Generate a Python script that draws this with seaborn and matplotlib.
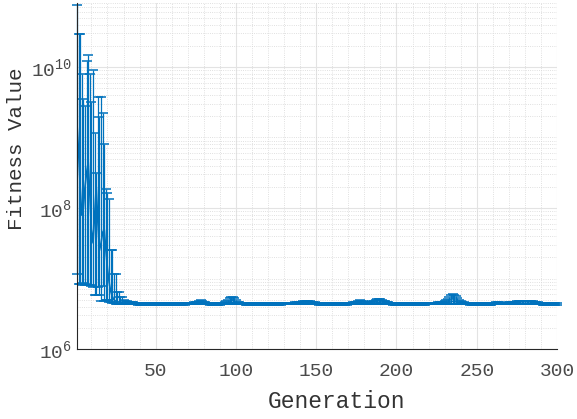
import numpy as np
import matplotlib
matplotlib.use("Agg")
import matplotlib.pyplot as plt
import matplotlib.ticker as mticker
import seaborn as sns

# ---------------------------------------------------------------
# Data (fitness values in units of 1e6)
# ---------------------------------------------------------------
generations = list(range(1, 301))

# first 30 generations: mean, lower and upper bar ends
head_mean = [1585, 631, 200, 79, 100, 200, 316, 447, 158, 50,
             32, 79, 200, 63, 25, 32, 45, 50, 25, 14,
             8.9, 6.6, 5.6, 5.0, 4.8, 4.7, 4.65, 4.6, 4.55, 4.5]
head_hi = [76000, 29500, 29500, 7900, 3500, 2800, 12000, 15000, 7900, 3200,
           9100, 1150, 316, 3700, 1950, 3700, 2240, 810, 186, 162,
           135, 25, 25, 11.5, 11.5, 6.5, 6.5, 5.5, 5.5, 5.0]
head_lo = [11.5, 8.3, 8.3, 8.0, 8.5, 8.2, 8.3, 8.0, 8.1, 7.9,
           7.6, 5.9, 5.8, 7.7, 5.9, 4.8, 7.8, 4.8, 5.0, 4.9,
           4.7, 4.6, 4.5, 4.5, 4.4, 4.4, 4.35, 4.35, 4.3, 4.3]

# generations 31..300: mean and error above / below
tail_mean = [4.48, 4.46, 4.45, 4.43, 4.42, 4.41, 4.40, 4.39, 4.38, 4.38,
             4.37, 4.37, 4.36, 4.36, 4.36, 4.35, 4.35, 4.35, 4.35, 4.35,
             4.35, 4.36, 4.36, 4.37, 4.37, 4.37, 4.38, 4.38, 4.38, 4.38,
             4.38, 4.38, 4.37, 4.37, 4.37, 4.37, 4.38, 4.38, 4.39, 4.39,
             4.40, 4.40, 4.41, 4.42, 4.43, 4.45, 4.48, 4.50, 4.47, 4.44,
             4.41, 4.40, 4.39, 4.38, 4.38, 4.37, 4.37, 4.37, 4.38, 4.38,
             4.39, 4.40, 4.42, 4.45, 4.50, 4.56, 4.62, 4.60, 4.56, 4.50,
             4.46, 4.43, 4.41, 4.40, 4.39, 4.38, 4.38, 4.38, 4.38, 4.37,
             4.37, 4.37, 4.37, 4.36, 4.36, 4.36, 4.36, 4.37, 4.37, 4.37,
             4.37, 4.37, 4.38, 4.38, 4.38, 4.38, 4.38, 4.38, 4.39, 4.39,
             4.39, 4.40, 4.40, 4.40, 4.41, 4.41, 4.42, 4.43, 4.44, 4.45,
             4.46, 4.47, 4.49, 4.50, 4.49, 4.47, 4.45, 4.43, 4.41, 4.40,
             4.39, 4.38, 4.38, 4.38, 4.37, 4.37, 4.37, 4.37, 4.37, 4.37,
             4.37, 4.37, 4.37, 4.37, 4.37, 4.38, 4.38, 4.38, 4.38, 4.39,
             4.39, 4.40, 4.41, 4.42, 4.44, 4.46, 4.48, 4.47, 4.45, 4.43,
             4.42, 4.41, 4.42, 4.43, 4.44, 4.46, 4.48, 4.51, 4.53, 4.52,
             4.50, 4.48, 4.45, 4.43, 4.41, 4.40, 4.39, 4.38, 4.38, 4.37,
             4.37, 4.37, 4.36, 4.36, 4.36, 4.36, 4.36, 4.36, 4.36, 4.37,
             4.37, 4.37, 4.37, 4.38, 4.38, 4.38, 4.38, 4.38, 4.39, 4.39,
             4.39, 4.39, 4.40, 4.40, 4.41, 4.42, 4.43, 4.44, 4.45, 4.47,
             4.50, 4.54, 4.60, 4.68, 4.75, 4.72, 4.65, 4.58, 4.52, 4.48,
             4.45, 4.43, 4.41, 4.40, 4.39, 4.38, 4.37, 4.37, 4.36, 4.36,
             4.36, 4.36, 4.36, 4.36, 4.37, 4.37, 4.37, 4.38, 4.38, 4.39,
             4.40, 4.41, 4.42, 4.41, 4.40, 4.39, 4.39, 4.39, 4.40, 4.41,
             4.42, 4.43, 4.44, 4.45, 4.46, 4.47, 4.48, 4.48, 4.47, 4.47,
             4.48, 4.49, 4.49, 4.48, 4.46, 4.44, 4.42, 4.41, 4.40, 4.39,
             4.38, 4.38, 4.37, 4.37, 4.36, 4.36, 4.35, 4.35, 4.34, 4.34]
tail_up = [0.30, 0.28, 0.25, 0.22, 0.20, 0.18, 0.16, 0.15, 0.14, 0.13,
           0.12, 0.12, 0.11, 0.11, 0.10, 0.10, 0.10, 0.10, 0.10, 0.10,
           0.10, 0.10, 0.11, 0.11, 0.11, 0.12, 0.12, 0.12, 0.12, 0.12,
           0.12, 0.12, 0.11, 0.11, 0.11, 0.11, 0.12, 0.12, 0.13, 0.13,
           0.14, 0.14, 0.15, 0.17, 0.20, 0.25, 0.35, 0.45, 0.35, 0.25,
           0.18, 0.15, 0.13, 0.12, 0.12, 0.11, 0.11, 0.11, 0.12, 0.12,
           0.13, 0.15, 0.20, 0.30, 0.50, 0.75, 0.90, 0.85, 0.65, 0.40,
           0.25, 0.18, 0.15, 0.13, 0.12, 0.12, 0.12, 0.12, 0.11, 0.11,
           0.11, 0.11, 0.11, 0.10, 0.10, 0.10, 0.10, 0.11, 0.11, 0.11,
           0.11, 0.11, 0.12, 0.12, 0.12, 0.12, 0.12, 0.12, 0.13, 0.13,
           0.13, 0.14, 0.14, 0.14, 0.15, 0.15, 0.16, 0.18, 0.20, 0.23,
           0.26, 0.30, 0.33, 0.35, 0.32, 0.28, 0.23, 0.19, 0.16, 0.14,
           0.13, 0.12, 0.12, 0.12, 0.11, 0.11, 0.11, 0.11, 0.11, 0.11,
           0.11, 0.11, 0.11, 0.11, 0.11, 0.12, 0.12, 0.12, 0.12, 0.13,
           0.13, 0.15, 0.18, 0.22, 0.28, 0.35, 0.40, 0.36, 0.28, 0.22,
           0.18, 0.17, 0.20, 0.25, 0.32, 0.40, 0.50, 0.60, 0.62, 0.55,
           0.45, 0.36, 0.28, 0.22, 0.17, 0.14, 0.13, 0.12, 0.12, 0.11,
           0.11, 0.11, 0.10, 0.10, 0.10, 0.10, 0.10, 0.10, 0.10, 0.11,
           0.11, 0.11, 0.11, 0.12, 0.12, 0.12, 0.12, 0.12, 0.13, 0.13,
           0.13, 0.13, 0.14, 0.14, 0.15, 0.16, 0.18, 0.20, 0.25, 0.32,
           0.45, 0.65, 0.90, 1.15, 1.30, 1.20, 0.95, 0.70, 0.48, 0.33,
           0.24, 0.18, 0.15, 0.13, 0.12, 0.12, 0.11, 0.11, 0.10, 0.10,
           0.10, 0.10, 0.10, 0.10, 0.11, 0.11, 0.11, 0.12, 0.12, 0.13,
           0.15, 0.18, 0.20, 0.18, 0.15, 0.13, 0.13, 0.13, 0.15, 0.17,
           0.19, 0.21, 0.23, 0.26, 0.28, 0.30, 0.33, 0.34, 0.32, 0.32,
           0.34, 0.36, 0.35, 0.32, 0.27, 0.22, 0.18, 0.16, 0.14, 0.13,
           0.12, 0.12, 0.11, 0.11, 0.10, 0.10, 0.10, 0.10, 0.10, 0.10]
tail_down = [0.14, 0.13, 0.12, 0.12, 0.11, 0.11, 0.10, 0.10, 0.10, 0.10,
             0.09, 0.09, 0.09, 0.09, 0.09, 0.09, 0.09, 0.09, 0.09, 0.09,
             0.09, 0.09, 0.09, 0.09, 0.09, 0.10, 0.10, 0.10, 0.10, 0.10,
             0.10, 0.10, 0.09, 0.09, 0.09, 0.09, 0.10, 0.10, 0.10, 0.10,
             0.10, 0.10, 0.11, 0.11, 0.12, 0.13, 0.15, 0.16, 0.14, 0.12,
             0.11, 0.10, 0.10, 0.10, 0.10, 0.09, 0.09, 0.09, 0.10, 0.10,
             0.10, 0.11, 0.12, 0.14, 0.17, 0.20, 0.22, 0.21, 0.18, 0.15,
             0.13, 0.11, 0.10, 0.10, 0.10, 0.10, 0.10, 0.10, 0.09, 0.09,
             0.09, 0.09, 0.09, 0.09, 0.09, 0.09, 0.09, 0.09, 0.09, 0.09,
             0.09, 0.09, 0.10, 0.10, 0.10, 0.10, 0.10, 0.10, 0.10, 0.10,
             0.10, 0.10, 0.10, 0.10, 0.11, 0.11, 0.11, 0.12, 0.12, 0.13,
             0.14, 0.15, 0.16, 0.16, 0.15, 0.14, 0.13, 0.12, 0.11, 0.10,
             0.10, 0.10, 0.10, 0.10, 0.09, 0.09, 0.09, 0.09, 0.09, 0.09,
             0.09, 0.09, 0.09, 0.09, 0.09, 0.10, 0.10, 0.10, 0.10, 0.10,
             0.10, 0.11, 0.12, 0.13, 0.14, 0.16, 0.17, 0.16, 0.14, 0.13,
             0.12, 0.12, 0.13, 0.14, 0.15, 0.17, 0.19, 0.21, 0.22, 0.20,
             0.18, 0.16, 0.14, 0.13, 0.12, 0.11, 0.10, 0.10, 0.10, 0.09,
             0.09, 0.09, 0.09, 0.09, 0.09, 0.09, 0.09, 0.09, 0.09, 0.09,
             0.09, 0.09, 0.09, 0.10, 0.10, 0.10, 0.10, 0.10, 0.10, 0.10,
             0.10, 0.10, 0.11, 0.11, 0.11, 0.12, 0.13, 0.14, 0.15, 0.17,
             0.20, 0.24, 0.28, 0.32, 0.34, 0.32, 0.28, 0.24, 0.20, 0.16,
             0.14, 0.12, 0.11, 0.10, 0.10, 0.10, 0.09, 0.09, 0.09, 0.09,
             0.09, 0.09, 0.09, 0.09, 0.09, 0.09, 0.09, 0.10, 0.10, 0.10,
             0.11, 0.12, 0.13, 0.12, 0.11, 0.10, 0.10, 0.10, 0.11, 0.12,
             0.13, 0.13, 0.14, 0.15, 0.15, 0.16, 0.17, 0.17, 0.16, 0.16,
             0.17, 0.17, 0.17, 0.16, 0.15, 0.14, 0.12, 0.11, 0.10, 0.10,
             0.10, 0.10, 0.09, 0.09, 0.09, 0.09, 0.09, 0.09, 0.09, 0.09]

x_ticks = [50, 100, 150, 200, 250, 300]
y_ticks = [1e6, 1e8, 1e10]
y_tick_labels = ["10$^{6}$", "10$^{8}$", "10$^{10}$"]

# ---------------------------------------------------------------
# Build arrays
# ---------------------------------------------------------------
scale = 1e6
mean = np.array(head_mean + tail_mean) * scale
lower = np.concatenate([np.array(head_mean) - np.array(head_lo), tail_down]) * scale
upper = np.concatenate([np.array(head_hi) - np.array(head_mean), tail_up]) * scale

# ---------------------------------------------------------------
# Style (MATLAB-like)
# ---------------------------------------------------------------
sns.set_theme(style="white")
plt.rcParams["font.family"] = ["Liberation Mono", "DejaVu Sans Mono"]
plt.rcParams["mathtext.fontset"] = "custom"
plt.rcParams["mathtext.rm"] = "Liberation Mono"
plt.rcParams["mathtext.it"] = "Liberation Mono"
plt.rcParams["mathtext.default"] = "regular"

blue = "#0072BD"
fig = plt.figure(figsize=(5.77, 4.19), dpi=100)
ax = fig.add_axes([0.1334, 0.167, 0.832, 0.826])

ax.errorbar(generations, mean, yerr=[lower, upper], fmt="none",
            ecolor=blue, elinewidth=0.9, capsize=3.5, capthick=1.1,
            clip_on=False)
sns.lineplot(x=generations, y=mean, color=blue, linewidth=1.2, ax=ax)

ax.set_yscale("log")
ax.set_xlim(1, 300)
ax.set_ylim(1e6, 8.1e10)

ax.xaxis.set_major_locator(mticker.FixedLocator(x_ticks))
ax.xaxis.set_minor_locator(mticker.MultipleLocator(10))
ax.yaxis.set_major_locator(mticker.FixedLocator(y_ticks))
ax.yaxis.set_major_formatter(mticker.FixedFormatter(y_tick_labels))
ax.yaxis.set_minor_locator(mticker.LogLocator(base=10, subs=np.arange(1, 10), numticks=20))
ax.yaxis.set_minor_formatter(mticker.NullFormatter())

ax.grid(True, which="major", color="#e3e3e3", linewidth=0.8, linestyle="-")
ax.grid(True, which="minor", color="#d6d6d6", linewidth=0.6, linestyle=":")
ax.set_axisbelow(True)

for side in ["top", "right"]:
    ax.spines[side].set_visible(False)
for side in ["left", "bottom"]:
    ax.spines[side].set_color("#262626")
    ax.spines[side].set_linewidth(0.8)

ax.tick_params(axis="both", which="major", direction="in", length=4,
               width=0.8, color="#262626", labelsize=14, labelcolor="#4a4a4a")
ax.tick_params(axis="x", which="minor", length=0)
ax.tick_params(axis="y", which="minor", direction="in", length=2.5,
               width=0.6, color="#262626")
ax.tick_params(axis="x", which="major", pad=10)

ax.set_xlabel("Generation", fontsize=16.5, color="#333333")
ax.set_ylabel("Fitness Value", fontsize=15, color="#333333")
ax.xaxis.set_label_coords(0.54, -0.118)
ax.yaxis.set_label_coords(-0.106, 0.578)

fig.savefig("out.png", dpi=100)
